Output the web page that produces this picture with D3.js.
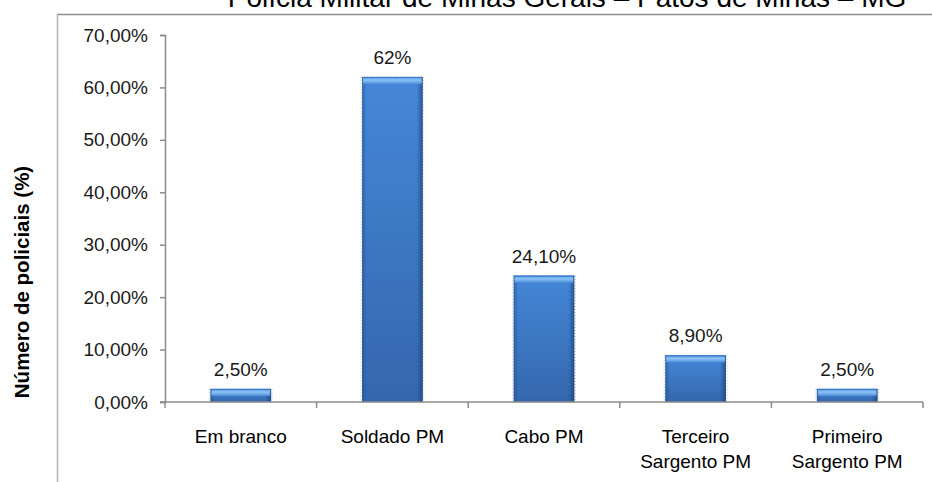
<!DOCTYPE html>
<html><head><meta charset="utf-8">
<script src="https://cdn.jsdelivr.net/npm/d3@7"></script>
<style>body{margin:0;background:#fff}svg{display:block}</style>
</head><body>
<script>
const categories = [["Em branco"], ["Soldado PM"], ["Cabo PM"], ["Terceiro", "Sargento PM"], ["Primeiro", "Sargento PM"]];
const values = [2.5, 62, 24.1, 8.9, 2.5];
const valueLabels = ["2,50%", "62%", "24,10%", "8,90%", "2,50%"];
const yTicks = [0, 10, 20, 30, 40, 50, 60, 70];
const title = "Polícia Militar de Minas Gerais – Patos de Minas – MG";
const yTitle = "Número de policiais (%)";

const W = 932, H = 482;
const svg = d3.select("body").append("svg").attr("width", W).attr("height", H);
const font = "'Liberation Sans', Arial, sans-serif";

const defs = svg.append("defs");
const gv = defs.append("linearGradient").attr("id","gv").attr("x1",0).attr("y1",0).attr("x2",0).attr("y2",1);
gv.append("stop").attr("offset","0").attr("stop-color","#4587d8");
gv.append("stop").attr("offset","1").attr("stop-color","#3467ad");
const gh = defs.append("linearGradient").attr("id","gh").attr("x1",0).attr("y1",0).attr("x2",1).attr("y2",0);
gh.append("stop").attr("offset","0").attr("stop-color","#1d4a86").attr("stop-opacity",0.55);
gh.append("stop").attr("offset","0.07").attr("stop-color","#1d4a86").attr("stop-opacity",0.0);
gh.append("stop").attr("offset","0.9").attr("stop-color","#1d4a86").attr("stop-opacity",0.0);
gh.append("stop").attr("offset","1").attr("stop-color","#163c70").attr("stop-opacity",0.7);
const gt = defs.append("linearGradient").attr("id","gt").attr("x1",0).attr("y1",0).attr("x2",0).attr("y2",1);
gt.append("stop").attr("offset","0").attr("stop-color","#4f92e0");
gt.append("stop").attr("offset","0.45").attr("stop-color","#8cc3f4");
gt.append("stop").attr("offset","1").attr("stop-color","#4f90dc");

// frame
svg.append("line").attr("x1",57).attr("x2",W).attr("y1",14.5).attr("y2",14.5).attr("stroke","#8c8c8c").attr("stroke-width",1.5);
svg.append("line").attr("x1",57.5).attr("x2",57.5).attr("y1",14).attr("y2",H).attr("stroke","#b3b3b3").attr("stroke-width",1.5);

// title (cut at top)
svg.append("text").attr("x",567).attr("y",6.5).attr("text-anchor","middle")
  .attr("font-family",font).attr("font-size",28).attr("fill","#000").text(title);

const x = d3.scaleBand().domain(d3.range(categories.length)).range([165, 923]).paddingInner(0.6).paddingOuter(0.3);
const y = d3.scaleLinear().domain([0, 70]).range([402, 35]);

// y axis
const yAxis = svg.append("g").attr("transform","translate(165,0)")
  .call(d3.axisLeft(y).tickValues(yTicks).tickSize(5).tickPadding(12)
    .tickFormat(d => d3.format(".2f")(d).replace(".", ",") + "%"));
yAxis.select(".domain").attr("stroke","#8c8c8c").attr("stroke-width",1.5);
yAxis.selectAll(".tick line").attr("stroke","#8c8c8c").attr("stroke-width",1.5);
yAxis.selectAll(".tick text").attr("font-family",font).attr("font-size",19).attr("fill","#1a1a1a");

// y title
svg.append("text").attr("transform","translate(29,282) rotate(-90)").attr("text-anchor","middle")
  .attr("font-family",font).attr("font-size",20.5).attr("font-weight","bold").attr("fill","#000").text(yTitle);

// bars
const gap = (x.step() - x.bandwidth())/2;
const bars = svg.append("g").selectAll("g").data(values).join("g");
bars.append("rect").attr("x",(d,i)=>x(i)-1).attr("y",d=>y(d)).attr("width",x.bandwidth()+2).attr("height",d=>y(0)-y(d))
  .attr("fill","none").attr("stroke","#bbbbbb").attr("stroke-dasharray","1,2");
bars.append("rect").attr("x",(d,i)=>x(i)).attr("y",d=>y(d)).attr("width",x.bandwidth()).attr("height",d=>y(0)-y(d))
  .attr("fill","url(#gv)");
bars.append("rect").attr("x",(d,i)=>x(i)).attr("y",d=>y(d)).attr("width",x.bandwidth()).attr("height",d=>y(0)-y(d))
  .attr("fill","url(#gh)");
bars.append("rect").attr("x",(d,i)=>x(i)+1).attr("y",d=>y(d)).attr("width",x.bandwidth()-2).attr("height",d=>Math.min(7, y(0)-y(d)))
  .attr("fill","url(#gt)");
bars.append("line").attr("x1",(d,i)=>x(i)).attr("x2",(d,i)=>x(i)+x.bandwidth()).attr("y1",d=>y(d)+0.5).attr("y2",d=>y(d)+0.5)
  .attr("stroke","#3a78c8").attr("stroke-width",1);

// x axis
const xAxisG = svg.append("g");
xAxisG.append("line").attr("x1",160).attr("x2",923).attr("y1",402).attr("y2",402).attr("stroke","#8c8c8c").attr("stroke-width",1.5);
const bounds = d3.range(categories.length+1).map(i => i < categories.length ? x(i) - gap : x(i-1) + x.bandwidth() + gap);
xAxisG.selectAll("line.t").data(bounds).join("line").attr("class","t")
  .attr("x1",d=>d).attr("x2",d=>d).attr("y1",402).attr("y2",408).attr("stroke","#8c8c8c").attr("stroke-width",1.5);

// category labels
const cl = svg.append("g").selectAll("text").data(categories).join("text")
  .attr("x",(d,i)=>x(i)+x.bandwidth()/2).attr("y",443).attr("text-anchor","middle")
  .attr("font-family",font).attr("font-size",19).attr("fill","#000");
cl.selectAll("tspan").data(d=>d).join("tspan").attr("x",function(){return this.parentNode.getAttribute("x");})
  .attr("dy",(d,j)=>j===0?0:25).text(d=>d);

// value labels
svg.append("g").selectAll("text").data(values).join("text")
  .attr("x",(d,i)=>x(i)+x.bandwidth()/2).attr("y",d=>y(d)-13).attr("text-anchor","middle")
  .attr("font-family",font).attr("font-size",19).attr("fill","#1a1a1a").text((d,i)=>valueLabels[i]);
</script>
</body></html>
